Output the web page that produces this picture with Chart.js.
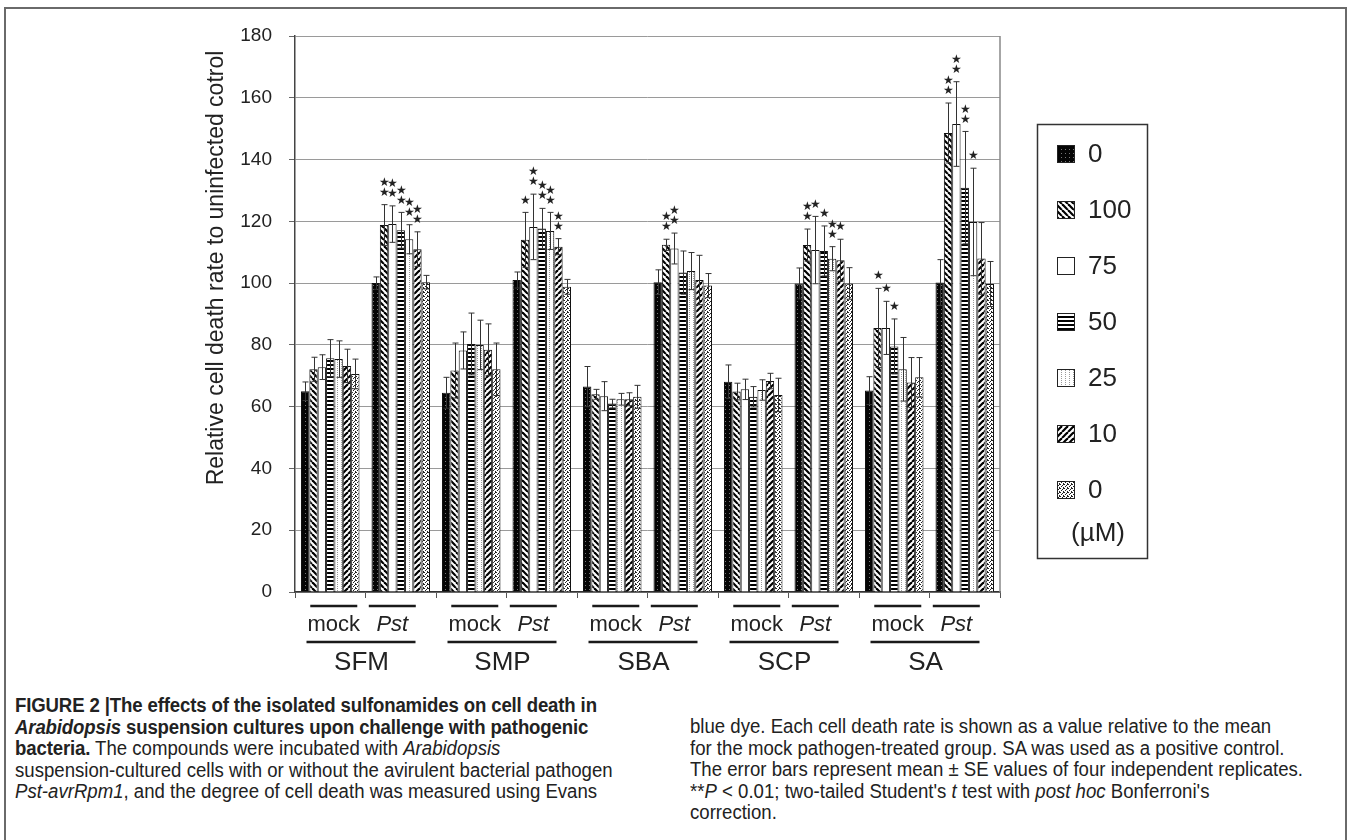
<!DOCTYPE html>
<html>
<head>
<meta charset="utf-8">
<script src="https://cdn.jsdelivr.net/npm/chart.js@4.4.1/dist/chart.umd.min.js"></script>
<style>
html,body{margin:0;padding:0;background:#fff;}
body{width:1351px;height:840px;position:relative;overflow:hidden;font-family:"Liberation Sans",Arial,sans-serif;color:#222;}
#frame{position:absolute;left:4px;top:7px;width:1339px;height:900px;border:2px solid #6a6a6a;border-bottom:none;}
#wrap{position:absolute;left:0;top:0;width:1351px;height:690px;}
.cap{position:absolute;font-size:20px;line-height:21.5px;transform-origin:0 0;transform:scaleX(0.93);white-space:nowrap;}
.cap b{font-weight:bold;letter-spacing:-0.15px;}
</style>
</head>
<body>
<div id="frame"></div>
<div id="wrap"><canvas id="chart"></canvas></div>

<div class="cap" style="left:15px;top:695px;">
  <div><b>FIGURE 2 |The effects of the isolated sulfonamides on cell death in</b></div>
  <div><b><i>Arabidopsis</i> suspension cultures upon challenge with pathogenic</b></div>
  <div><b>bacteria.</b> The compounds were incubated with <i>Arabidopsis</i></div>
  <div>suspension-cultured cells with or without the avirulent bacterial pathogen</div>
  <div><i>Pst-avrRpm1</i>, and the degree of cell death was measured using Evans</div>
</div>
<div class="cap" style="left:690px;top:716px;">
  <div>blue dye. Each cell death rate is shown as a value relative to the mean</div>
  <div>for the mock pathogen-treated group. SA was used as a positive control.</div>
  <div>The error bars represent mean ± SE values of four independent replicates.</div>
  <div>**<i>P</i> &lt; 0.01; two-tailed Student's <i>t</i> test with <i>post hoc</i> Bonferroni's</div>
  <div>correction.</div>
</div>

<script>
/* ===== Data ===== */
const categories = ['mock','Pst','mock','Pst','mock','Pst','mock','Pst','mock','Pst'];
const compounds  = ['SFM','SMP','SBA','SCP','SA'];
const doseLabels = ['0','100','75','50','25','10','0'];
const yTicks = [0,20,40,60,80,100,120,140,160,180];

// means per dose, over the 10 categories
const dose0a   = [65.0,100.0,64.5,101.0,66.5,100.3,68.1, 99.9,65.2,100.2];
const dose100  = [72.1,118.8,71.7,114.0,64.0,112.4,64.9,112.3,85.5,148.6];
const dose75   = [72.8,119.1,78.2,118.2,63.4,111.2,65.6,110.7,85.5,151.5];
const dose50   = [75.7,117.1,80.3,117.7,61.0,103.4,63.2,110.4,79.5,130.9];
const dose25   = [75.4,114.2,80.0,116.9,62.4,103.9,65.4,107.9,72.1,119.8];
const dose10   = [73.2,111.0,78.4,111.8,62.4,101.0,68.3,107.4,67.8,108.0];
const dose0b   = [70.6,100.3,72.1, 98.8,63.2, 99.2,63.8, 99.9,69.5, 99.7];

// SE values
const err0a  = [3.0,2.0,5.0,2.6,6.5,4.0,5.4,5.0,4.5,7.4];
const err100 = [3.9,6.6,8.9,8.9,1.6,1.8,2.7,5.2,12.8,9.7];
const err75  = [4.0,5.9,6.0,10.6,4.7,5.0,3.3,10.9,8.6,13.7];
const err50  = [6.0,5.8,10.0,6.5,1.4,7.0,3.3,8.1,8.9,18.2];
const err25  = [5.9,4.7,8.0,6.0,1.9,6.0,3.3,3.9,10.3,17.4];
const err10  = [5.4,5.6,8.4,2.6,2.1,8.0,2.5,6.8,8.1,11.6];
const err0b  = [4.8,2.2,8.5,2.4,3.7,3.9,5.4,5.1,6.4,7.3];

// significance stars per bar
const star0a  = [0,0,0,0,0,0,0,0,0,0];
const star100 = [0,2,0,1,0,2,0,2,1,2];
const star75  = [0,2,0,2,0,2,0,1,1,2];
const star50  = [0,2,0,2,0,0,0,1,1,2];
const star25  = [0,2,0,2,0,0,0,2,0,1];
const star10  = [0,2,0,2,0,0,0,1,0,0];
const star0b  = [0,0,0,0,0,0,0,0,0,0];

const FONT = '"Liberation Sans", Arial, sans-serif';

/* ===== Fill patterns ===== */
function makePattern(kind){
  const s = kind==='hlines' ? 4 : (kind==='bdiag'||kind==='fdiag') ? 6 : 4;
  const c = document.createElement('canvas'); c.width = s; c.height = s;
  const g = c.getContext('2d');
  g.fillStyle = '#fff'; g.fillRect(0,0,s,s);
  g.fillStyle = '#000'; g.strokeStyle = '#000';
  if(kind==='dark'){
    g.fillStyle='#050505'; g.fillRect(0,0,s,s);
    g.fillStyle='#777'; g.fillRect(1,1,1,1);
  } else if(kind==='bdiag' || kind==='fdiag'){
    g.lineWidth = 2.2;
    for(const k of [-s,0,s]){
      g.beginPath();
      if(kind==='bdiag'){ g.moveTo(k,0); g.lineTo(k+s,s); }
      else { g.moveTo(k,s); g.lineTo(k+s,0); }
      g.stroke();
    }
  } else if(kind==='hlines'){
    g.fillRect(0,0,s,2);
  } else if(kind==='dots'){
    g.fillStyle='#9a9a9a'; g.fillRect(1,0,1,1); g.fillRect(1,2,1,1);
  } else if(kind==='stipple'){
    g.fillStyle='#222';
    g.fillRect(0,0,1,1); g.fillRect(2,1,1,1); g.fillRect(1,2,1,1); g.fillRect(3,3,1,1); g.fillRect(3,0,1,1);
  }
  return g.createPattern(c,'repeat');
}
const fills = ['dark','bdiag','white','hlines','dots','fdiag','stipple'].map(k => k==='white' ? '#fff' : makePattern(k));

const means = [dose0a,dose100,dose75,dose50,dose25,dose10,dose0b];
const errs  = [err0a,err100,err75,err50,err25,err10,err0b];
const stars = [star0a,star100,star75,star50,star25,star10,star0b];

/* ===== Plugins ===== */
const errorBars = {
  id:'errorBars',
  afterDatasetsDraw(chart){
    const ctx = chart.ctx, ys = chart.scales.y;
    ctx.save();
    ctx.strokeStyle = '#333'; ctx.lineWidth = 1;
    chart.data.datasets.forEach((ds,i)=>{
      chart.getDatasetMeta(i).data.forEach((bar,j)=>{
        const v = ds.data[j], e = ds.err[j];
        const x = Math.round(bar.x)+0.5;
        const yt = ys.getPixelForValue(v+e), yb = ys.getPixelForValue(v-e);
        ctx.beginPath();
        ctx.moveTo(x,yt); ctx.lineTo(x,yb);
        ctx.moveTo(x-3,yt); ctx.lineTo(x+3,yt);
        ctx.moveTo(x-3,yb); ctx.lineTo(x+3,yb);
        ctx.stroke();
        // significance marks
        const n = ds.stars[j];
        ctx.fillStyle = '#222'; ctx.font = '12px "DejaVu Sans"';
        ctx.textAlign = 'center'; ctx.textBaseline = 'middle';
        for(let k=0;k<n;k++) ctx.fillText('\u2605', x, yt-12-k*10);
      });
    });
    ctx.restore();
  }
};

const decor = {
  id:'decor',
  afterDraw(chart){
    const ctx = chart.ctx, a = chart.chartArea;
    ctx.save();
    // plot area right border
    ctx.strokeStyle = '#888'; ctx.lineWidth = 1.5;
    ctx.beginPath(); ctx.moveTo(a.right, a.top); ctx.lineTo(a.right, a.bottom); ctx.stroke();

    // y-axis title
    ctx.fillStyle = '#222';
    ctx.font = '23px ' + FONT;
    ctx.textAlign = 'center'; ctx.textBaseline = 'middle';
    ctx.save(); ctx.translate(217, 268); ctx.rotate(-Math.PI/2);
    ctx.fillText('Relative cell death rate to uninfected cotrol', 0, 0);
    ctx.restore();

    // category labels with bars
    const cw = (a.right - a.left) / categories.length;
    ctx.strokeStyle = '#1a1a1a'; ctx.lineWidth = 2.5;
    compounds.forEach((name,k)=>{
      const g = a.left + cw*(2*k+1);
      const mx = g - 0.45*cw, px = g + 0.38*cw;
      ctx.beginPath();
      ctx.moveTo(mx-23.5, 606); ctx.lineTo(mx+23.5, 606);
      ctx.moveTo(px-23.5, 606); ctx.lineTo(px+23.5, 606);
      ctx.moveTo(g-59, 642); ctx.lineTo(g+50, 642);
      ctx.stroke();
      ctx.font = '22px ' + FONT;
      ctx.fillText(categories[2*k], mx, 625);
      ctx.font = 'italic 22px ' + FONT;
      ctx.fillText(categories[2*k+1], px, 625);
      ctx.font = '26px ' + FONT;
      ctx.fillText(name, g-4, 663);
    });

    // legend
    ctx.strokeStyle = '#333'; ctx.lineWidth = 1.5;
    ctx.strokeRect(1037.5, 124.5, 110, 434);
    ctx.textAlign = 'left';
    ctx.font = '26px ' + FONT;
    doseLabels.forEach((lab,i)=>{
      const cy = 154 + 56*i;
      ctx.fillStyle = fills[i];
      ctx.fillRect(1057, cy-9, 18, 18);
      ctx.strokeStyle = '#222'; ctx.lineWidth = 1;
      ctx.strokeRect(1057.5, cy-8.5, 17, 17);
      ctx.fillStyle = '#222';
      ctx.fillText(lab, 1088, cy+1);
    });
    ctx.textAlign = 'center';
    ctx.fillText('(\u00b5M)', 1098, 534);
    ctx.restore();
  }
};

/* ===== Chart ===== */
new Chart(document.getElementById('chart'), {
  type:'bar',
  data:{
    labels: categories,
    datasets: doseLabels.map((lab,i)=>({
      label: lab + ' \u00b5M',
      data: means[i],
      err: errs[i],
      stars: stars[i],
      backgroundColor: fills[i],
      borderColor: '#111',
      borderWidth: 1,
      categoryPercentage: 0.83,
      barPercentage: 1.0
    }))
  },
  options:{
    responsive:true, maintainAspectRatio:false, animation:false,
    layout:{ padding:{ left:195, right:351, top:36, bottom:92 } },
    plugins:{ legend:{display:false}, tooltip:{enabled:false} },
    scales:{
      x:{
        ticks:{display:false},
        grid:{display:true, drawOnChartArea:false, tickLength:6, color:'#555', offset:true},
        border:{color:'#333', width:1.5},
        afterFit(s){ s.height = 6; }
      },
      y:{
        min:0, max:180,
        afterBuildTicks(s){ s.ticks = yTicks.map(v=>({value:v})); },
        ticks:{ color:'#222', font:{size:19, family:FONT}, padding:17 },
        grid:{ color:'#9a9a9a', lineWidth:1, tickLength:6, tickColor:'#666' },
        border:{ color:'#444', width:1.5 },
        afterFit(s){ s.width = 100; }
      }
    }
  },
  plugins:[errorBars, decor]
});
</script>
</body>
</html>
